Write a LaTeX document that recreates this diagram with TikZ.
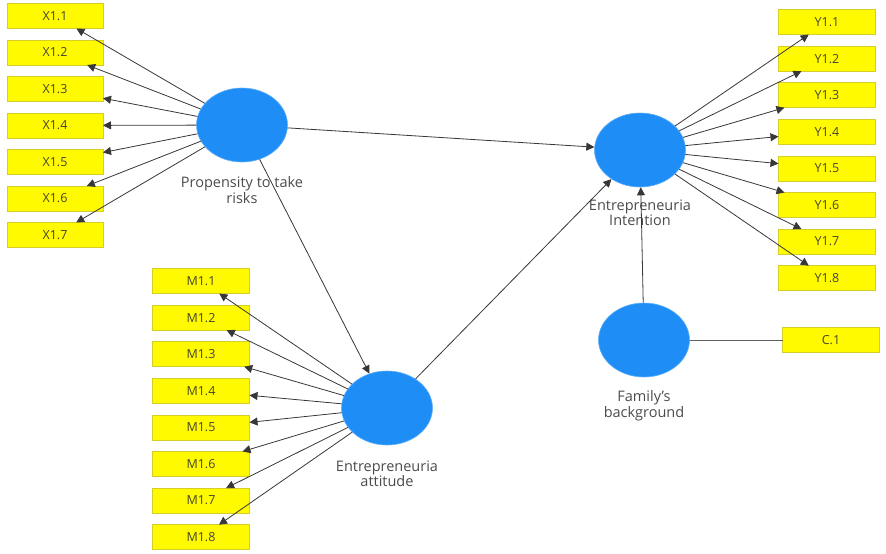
\documentclass[tikz,border=0pt]{standalone}
\usepackage{fontspec}
\setmainfont{Open Sans}
\definecolor{itemyellow}{RGB}{255, 250, 0}
\definecolor{itemedge}{RGB}{214, 206, 40}
\definecolor{itemtext}{RGB}{70, 70, 45}
\definecolor{latentblue}{RGB}{30, 142, 246}
\definecolor{pathgray}{RGB}{55, 55, 55}
\usetikzlibrary{arrows.meta, positioning, shapes.geometric}
\tikzset{
	item/.style={rectangle, draw=itemedge, fill=itemyellow, line width=0.8pt, align=center, minimum width=97pt, minimum height=25pt, inner sep=0pt, outer sep=0pt, text=itemtext, font=\fontsize{12.5}{14}\selectfont},
	latent/.style={ellipse, draw=latentblue!70, fill=latentblue, line width=0.6pt, minimum width=91pt, minimum height=74pt, inner sep=0pt},
	caption/.style={align=center, inner sep=0pt, text=pathgray!90, font=\fontsize{14.5}{15.5}\selectfont},
	arrow/.style={-{Triangle[length=8pt, width=8pt]}, line width=0.8pt, draw=pathgray},
	link/.style={line width=0.8pt, draw=pathgray!80},
}

\begin{document}
\begin{tikzpicture}[x=1pt, y=-1pt]
		\useasboundingbox (0,0) rectangle (886,554);
		% latent variables
		\node[latent] (prop) at (242,125) {};
		\node[latent] (intent) at (640,150) {};
		\node[latent] (att) at (387,408) {};
		\node[latent] (fam) at (644,340) {};
		\node[caption, below=14pt of prop] (propcap) {Propensity to take\\risks};
		\node[caption, below=12pt of intent] (intentcap) {Entrepreneuria\\Intention};
		\node[caption, below=15pt of att] (attcap) {Entrepreneuria\\attitude};
		\node[caption, below=13pt of fam] (famcap) {Family's\\background};

		% X indicators
		\node[item, minimum width=96pt] (x11) at (55,16) {X1.1};
		\node[item, minimum width=96pt, below=11.5pt of x11] (x12) {X1.2};
		\node[item, minimum width=96pt, below=11.5pt of x12] (x13) {X1.3};
		\node[item, minimum width=96pt, below=11.5pt of x13] (x14) {X1.4};
		\node[item, minimum width=96pt, below=11.5pt of x14] (x15) {X1.5};
		\node[item, minimum width=96pt, below=11.5pt of x15] (x16) {X1.6};
		\node[item, minimum width=96pt, below=11.5pt of x16] (x17) {X1.7};

		% Y indicators
		\node[item] (y11) at (827,22) {Y1.1};
		\node[item, below=11.6pt of y11] (y12) {Y1.2};
		\node[item, below=11.6pt of y12] (y13) {Y1.3};
		\node[item, below=11.6pt of y13] (y14) {Y1.4};
		\node[item, below=11.6pt of y14] (y15) {Y1.5};
		\node[item, below=11.6pt of y15] (y16) {Y1.6};
		\node[item, below=11.6pt of y16] (y17) {Y1.7};
		\node[item, below=11.6pt of y17] (y18) {Y1.8};

		% M indicators
		\node[item] (m11) at (201,281) {M1.1};
		\node[item, below=11.6pt of m11] (m12) {M1.2};
		\node[item, below=11.6pt of m12] (m13) {M1.3};
		\node[item, below=11.6pt of m13] (m14) {M1.4};
		\node[item, below=11.6pt of m14] (m15) {M1.5};
		\node[item, below=11.6pt of m15] (m16) {M1.6};
		\node[item, below=11.6pt of m16] (m17) {M1.7};
		\node[item, below=11.6pt of m17] (m18) {M1.8};

		\node[item] (c1) at (831,340) {C.1};

		% loadings
		\draw[arrow] (prop) -- (x11);
		\draw[arrow] (prop) -- (x12);
		\draw[arrow] (prop) -- (x13);
		\draw[arrow] (prop) -- (x14);
		\draw[arrow] (prop) -- (x15);
		\draw[arrow] (prop) -- (x16);
		\draw[arrow] (prop) -- (x17);
		\draw[arrow] (intent) -- (y11);
		\draw[arrow] (intent) -- (y12);
		\draw[arrow] (intent) -- (y13);
		\draw[arrow] (intent) -- (y14);
		\draw[arrow] (intent) -- (y15);
		\draw[arrow] (intent) -- (y16);
		\draw[arrow] (intent) -- (y17);
		\draw[arrow] (intent) -- (y18);
		\draw[arrow] (att) -- (m11);
		\draw[arrow] (att) -- (m12);
		\draw[arrow] (att) -- (m13);
		\draw[arrow] (att) -- (m14);
		\draw[arrow] (att) -- (m15);
		\draw[arrow] (att) -- (m16);
		\draw[arrow] (att) -- (m17);
		\draw[arrow] (att) -- (m18);
		\draw[link] (fam) -- (c1);

		% structural paths
		\draw[arrow] (prop) -- (intent);
		\draw[arrow] (prop) -- (att);
		\draw[arrow] (att) -- (intent);
		\draw[arrow] (fam) -- (intent);
	\end{tikzpicture}
\end{document}
